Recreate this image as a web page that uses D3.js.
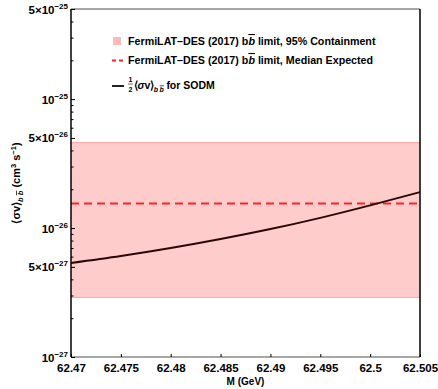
<!DOCTYPE html>
<html><head><meta charset="utf-8">
<script src="https://cdn.jsdelivr.net/npm/d3@7"></script>
<style>
body{margin:0;background:#fff}
text{font-family:"Liberation Sans",Arial,Helvetica,sans-serif;font-weight:bold;fill:#000}
</style>
</head><body>
<svg id="chart" width="438" height="389"></svg>
<script>
// Mass axis ticks (GeV)
const massTicks = [62.47, 62.475, 62.48, 62.485, 62.49, 62.495, 62.5, 62.505];
const massTickLabels = ["62.47", "62.475", "62.48", "62.485", "62.49", "62.495", "62.5", "62.505"];
// Cross-section axis: labelled ticks, written as mantissa × 10^exponent
const sigmaMajorTicks = [1e-27, 5e-27, 1e-26, 5e-26, 1e-25, 5e-25];
const sigmaMajorMantissa = ["", "5", "", "5", "", "5"];
const sigmaMajorExponent = ["\u221227", "\u221227", "\u221226", "\u221226", "\u221225", "\u221225"];
// SODM annihilation cross-section, (1/2)<σv> into b b̄
const mass = [62.47, 62.475, 62.48, 62.485, 62.49, 62.495, 62.5, 62.505];
const sodmSigmaV = [5.36e-27, 6.07e-27, 7.0e-27, 8.22e-27, 9.82e-27, 1.2e-26, 1.5e-26, 1.90e-26];
// Fermi-LAT/DES (2017) b b̄ limit: 95% containment band and median expected
const bandLower = [2.9e-27];
const bandUpper = [4.6e-26];
const medianExpected = [1.55e-26];

const W = 438, H = 389;
const m = {left: 71, right: 18, top: 9, bottom: 32};
const svg = d3.select("#chart");

const x = d3.scaleLinear().domain([62.47, 62.505]).range([m.left, W - m.right]);
const y = d3.scaleLog().domain([1e-27, 5e-25]).range([H - m.bottom, m.top]);
const [x0, x1] = x.range();
const [yb, yt] = y.range();

// containment band
svg.append("rect")
  .attr("x", x0).attr("width", x1 - x0)
  .attr("y", y(bandUpper[0])).attr("height", y(bandLower[0]) - y(bandUpper[0]))
  .attr("fill", "#ffcccc");
[bandUpper[0], bandLower[0]].forEach(v => {
  svg.append("line").attr("x1", x0).attr("x2", x1)
    .attr("y1", y(v)).attr("y2", y(v))
    .attr("stroke", "#ffaaaa").attr("stroke-width", 1.2);
});

// median expected
svg.append("line").attr("x1", x0).attr("x2", x1)
  .attr("y1", y(medianExpected[0])).attr("y2", y(medianExpected[0]))
  .attr("stroke", "#ff2222").attr("stroke-width", 2)
  .attr("stroke-dasharray", "8,5");

// SODM curve
const line = d3.line().x((d, i) => x(mass[i])).y(d => y(d)).curve(d3.curveMonotoneX);
svg.append("path").datum(sodmSigmaV).attr("d", line)
  .attr("fill", "none").attr("stroke", "#2a0808").attr("stroke-width", 2);

// frame
svg.append("line").attr("x1", x0).attr("x2", x1).attr("y1", yt).attr("y2", yt)
  .attr("stroke", "#8a8a8a").attr("stroke-width", 1.5);
svg.append("line").attr("x1", x0).attr("x2", x1).attr("y1", yb).attr("y2", yb)
  .attr("stroke", "#8a8a8a").attr("stroke-width", 1.5);
svg.append("line").attr("x1", x1).attr("x2", x1).attr("y1", yt).attr("y2", yb)
  .attr("stroke", "#000").attr("stroke-width", 1.5);

// x axis
const xAxis = svg.append("g").attr("transform", `translate(0,${yb})`)
  .call(d3.axisBottom(x).tickValues(massTicks)
    .tickFormat((d, i) => massTickLabels[i]).tickSize(-3).tickPadding(7));
xAxis.select(".domain").remove();
xAxis.selectAll(".tick line").attr("stroke", "#000");
xAxis.selectAll(".tick text").style("font-size", "11.5px").attr("fill", "#000");

// y axis: minor ticks at 2..9 per decade
const minorTicks = [];
for (let e = -27; e <= -25; e++) {
  for (let k = 2; k <= 9; k++) {
    const v = k * Math.pow(10, e);
    if (k !== 5 && v < 5e-25) minorTicks.push(v);
  }
}
svg.append("g").attr("transform", `translate(${x0},0)`)
  .call(d3.axisLeft(y).tickValues(minorTicks).tickFormat("").tickSize(-2.5))
  .call(g => g.select(".domain").remove())
  .call(g => g.selectAll(".tick line").attr("stroke", "#000"));

const yAxis = svg.append("g").attr("transform", `translate(${x0},0)`)
  .call(d3.axisLeft(y).tickValues(sigmaMajorTicks).tickFormat("").tickSize(-4).tickPadding(3));
yAxis.select(".domain").remove();
yAxis.selectAll(".tick line").attr("stroke", "#000");
yAxis.selectAll(".tick").each(function(d) {
  const i = sigmaMajorTicks.indexOf(d);
  const t = d3.select(this).append("text")
    .attr("x", -3).attr("dy", "0.35em").attr("text-anchor", "end")
    .style("font-size", "11.5px");
  t.append("tspan").text((sigmaMajorMantissa[i] ? sigmaMajorMantissa[i] + "\u00d7" : "") + "10");
  t.append("tspan").attr("dy", "-5").style("font-size", "8px").text(sigmaMajorExponent[i]);
});
svg.append("line").attr("x1", x0).attr("x2", x0).attr("y1", yt).attr("y2", yb)
  .attr("stroke", "#000").attr("stroke-width", 1.5);

// axis titles
svg.append("text").attr("x", (x0 + x1) / 2).attr("y", 385)
  .attr("text-anchor", "middle").style("font-size", "10px").text("M (GeV)");

const yt1 = svg.append("text")
  .attr("transform", `translate(20,${(yt + yb) / 2}) rotate(-90)`)
  .attr("text-anchor", "middle").style("font-size", "11px");
yt1.append("tspan").text("\u27e8\u03c3v\u27e9");
yt1.append("tspan").attr("dy", 3).style("font-size", "7.5px").style("font-style", "italic").text("b ");
yt1.append("tspan").style("font-size", "7.5px").style("font-style", "italic")
  .style("text-decoration", "overline").text("b");
yt1.append("tspan").attr("dy", -3).text(" (cm");
yt1.append("tspan").attr("dy", -4).style("font-size", "7.5px").text("3");
yt1.append("tspan").attr("dy", 4).text(" s");
yt1.append("tspan").attr("dy", -4).style("font-size", "7.5px").text("\u22121");
yt1.append("tspan").attr("dy", 4).text(")");

// legend
const lg = svg.append("g");
lg.append("rect").attr("x", 113).attr("y", 37).attr("width", 8).attr("height", 8).attr("fill", "#ffb9b9");
lg.append("line").attr("x1", 112).attr("x2", 124).attr("y1", 60.5).attr("y2", 60.5)
  .attr("stroke", "#ff2222").attr("stroke-width", 2).attr("stroke-dasharray", "4,3");
lg.append("line").attr("x1", 112).attr("x2", 124).attr("y1", 86).attr("y2", 86)
  .attr("stroke", "#222").attr("stroke-width", 2);

function limitLabel(yy, tail) {
  const t = lg.append("text").attr("x", 128).attr("y", yy).style("font-size", "10.7px");
  t.append("tspan").text("FermiLAT\u2013DES (2017) b");
  t.append("tspan").style("font-style", "italic").style("text-decoration", "overline").text("b");
  t.append("tspan").text(tail);
}
limitLabel(45, " limit, 95% Containment");
limitLabel(64, " limit, Median Expected");

lg.append("text").attr("x", 130.5).attr("y", 82).attr("text-anchor", "middle").style("font-size", "7px").text("1");
lg.append("line").attr("x1", 128).attr("x2", 133).attr("y1", 84).attr("y2", 84).attr("stroke", "#000").attr("stroke-width", 0.6);
lg.append("text").attr("x", 130.5).attr("y", 91.5).attr("text-anchor", "middle").style("font-size", "7px").text("2");
const t3 = lg.append("text").attr("x", 134).attr("y", 89).style("font-size", "10.5px");
t3.append("tspan").text("\u27e8");
t3.append("tspan").attr("dx", -0.5).style("font-style", "italic").text("\u03c3");
t3.append("tspan").text("v");
t3.append("tspan").attr("dx", -0.5).text("\u27e9");
t3.append("tspan").attr("dy", 2.5).style("font-size", "7px").style("font-style", "italic").text("b");
t3.append("tspan").attr("dx", 1.5).style("font-size", "7px").style("font-style", "italic").style("text-decoration", "overline").text("b");
t3.append("tspan").attr("dy", -2.5).attr("dx", 2.5).text("for SODM");
</script>
</body></html>
